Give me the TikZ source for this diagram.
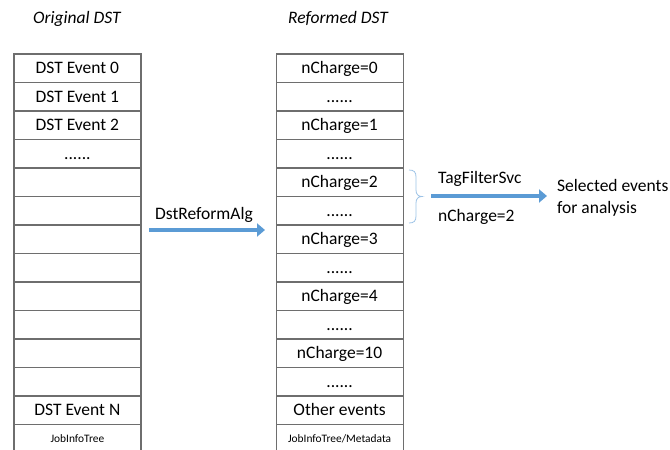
\documentclass[tikz,border=0pt]{standalone}
\usepackage{fontspec}
\setmainfont{Carlito}
\usetikzlibrary{arrows.meta}

\definecolor{arrowblue}{HTML}{5B9BD5}
\definecolor{braceblue}{HTML}{9DC3E6}
\definecolor{cellgray}{HTML}{6E6E6E}

\tikzset{
  cell/.style={draw=cellgray, line width=1.2pt, minimum width=127pt, minimum height=28.5pt,
    inner sep=0pt, anchor=north west, text height=11.3pt, text depth=0pt,
    font=\fontsize{17.5}{21}\selectfont},
  smallcell/.style={cell, text height=7.3pt, font=\fontsize{11.4}{13}\selectfont},
  heading/.style={inner sep=0pt, anchor=base, font=\fontsize{17.5}{21}\selectfont\itshape},
  note/.style={inner sep=0pt, font=\fontsize{17.5}{21.6}\selectfont},
  blockarrow/.style={draw=arrowblue, line width=4.5pt, -{Triangle[length=8pt,width=13pt]}},
}

\begin{document}
\begin{tikzpicture}[x=1pt,y=-1pt]
  \useasboundingbox (0,0) rectangle (670,450);

  % Titles
  \node [heading] (origtitle) at (77.0,23.3) {Original DST};
  \node [heading] (reformtitle) at (338.0,23.3) {Reformed DST};

  % Original DST column
  \node [cell] (orig0) at (13.3,53.3) {DST Event 0};
  \node [cell] (orig1) at (13.3,81.8) {DST Event 1};
  \node [cell] (orig2) at (13.3,110.3) {DST Event 2};
  \node [cell] (orig3) at (13.3,138.8) {......};
  \node [cell] (orig4) at (13.3,167.3) {};
  \node [cell] (orig5) at (13.3,195.8) {};
  \node [cell] (orig6) at (13.3,224.3) {};
  \node [cell] (orig7) at (13.3,252.8) {};
  \node [cell] (orig8) at (13.3,281.3) {};
  \node [cell] (orig9) at (13.3,309.8) {};
  \node [cell] (orig10) at (13.3,338.3) {};
  \node [cell] (orig11) at (13.3,366.8) {};
  \node [cell] (orig12) at (13.3,395.3) {DST Event N};
  \node [smallcell] (orig13) at (13.3,423.8) {JobInfoTree};

  % Reformed DST column
  \node [cell] (reform0) at (275.5,53.3) {nCharge=0};
  \node [cell] (reform1) at (275.5,81.8) {......};
  \node [cell] (reform2) at (275.5,110.3) {nCharge=1};
  \node [cell] (reform3) at (275.5,138.8) {......};
  \node [cell] (reform4) at (275.5,167.3) {nCharge=2};
  \node [cell] (reform5) at (275.5,195.8) {......};
  \node [cell] (reform6) at (275.5,224.3) {nCharge=3};
  \node [cell] (reform7) at (275.5,252.8) {......};
  \node [cell] (reform8) at (275.5,281.3) {nCharge=4};
  \node [cell] (reform9) at (275.5,309.8) {......};
  \node [cell] (reform10) at (275.5,338.3) {nCharge=10};
  \node [cell] (reform11) at (275.5,366.8) {......};
  \node [cell] (reform12) at (275.5,395.3) {Other events};
  \node [smallcell] (reform13) at (275.5,423.8) {JobInfoTree/Metadata};

  % Drawing arrow DstReformAlg
  \coordinate (reformstart) at (149.0,230.0);
  \coordinate (reformend) at (265.0,230.0);
  \draw [blockarrow] (reformstart) -- (reformend);
  \node [note, anchor=base] (reformalg) at (204.0,219.0) {DstReformAlg};

  % Brace round nCharge=2
  \draw [braceblue, line width=0.8pt]
    (409.0,170.0) .. controls (414.0,170.0) and (416.0,172.0) .. (416.0,177.0)
    -- (416.0,190.0) .. controls (416.0,194.0) and (418.0,196.5) .. (422.0,196.5)
    .. controls (418.0,196.5) and (416.0,199.0) .. (416.0,203.0)
    -- (416.0,216.0) .. controls (416.0,221.0) and (414.0,223.0) .. (409.0,223.0);

  % Drawing arrow TagFilterSvc
  \coordinate (tagstart) at (431.0,196.0);
  \coordinate (tagend) at (547.0,196.0);
  \draw [blockarrow] (tagstart) -- (tagend);
  \node [note, anchor=base west] (tagsvc) at (438.0,183.3) {TagFilterSvc};
  \node [note, anchor=base west] (tagcut) at (438.0,221.7) {nCharge=2};

  % Selected events (base is the last line)
  \node [note, anchor=base west, align=left] (selected) at (557.0,213.3) {Selected events\\for analysis};
\end{tikzpicture}
\end{document}
